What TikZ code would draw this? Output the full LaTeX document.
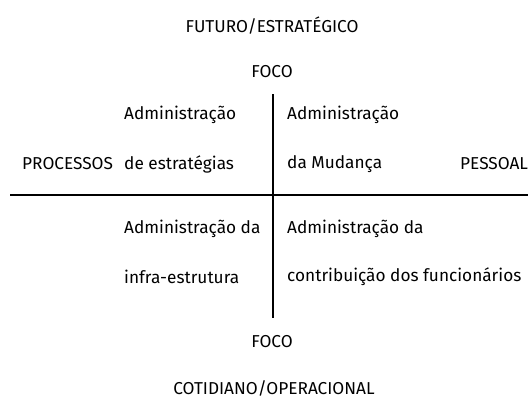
\documentclass[tikz,border=0pt]{standalone}
\usepackage{fontspec}
\setmainfont{Fira Sans}
\begin{document}
\begin{tikzpicture}[x=1bp,y=-1bp,
  lbl/.style={inner sep=0pt,font=\fontsize{17.3}{19}\selectfont},
  axis/.style={line width=2.2bp}]
\useasboundingbox (0,0) rectangle (528,398);
\node[lbl] (top) at (272,26) {FUTURO/ESTRATÉGICO};
\node[lbl] (focotop) at (272,72) {FOCO};
\node[lbl,anchor=west] (a1) at (124,115) {Administração};
\node[lbl,anchor=west] (a2) at (124,164) {de estratégias};
\node[lbl,anchor=west] (proc) at (22,164) {PROCESSOS};
\node[lbl,anchor=west] (b1) at (287,115) {Administração};
\node[lbl,anchor=west] (b2) at (287,164) {da Mudança};
\node[lbl,anchor=west] (pess) at (460,164) {PESSOAL};
\node[lbl,anchor=west] (c1) at (124,229) {Administração da};
\node[lbl,anchor=west] (c2) at (124,277) {infra-estrutura};
\node[lbl,anchor=west] (d1) at (287,229) {Administração da};
\node[lbl,anchor=west] (d2) at (287,277) {contribuição dos funcionários};
\node[lbl] (focobot) at (272,342) {FOCO};
\node[lbl] (bot) at (274,388) {COTIDIANO/OPERACIONAL};
\coordinate (vt) at (273,94);
\coordinate (vb) at (273,318);
\coordinate (hl) at (10,195);
\coordinate (hr) at (528,195);
\draw[axis] (vt) -- (vb);
\draw[axis] (hl) -- (hr);
\end{tikzpicture}
\end{document}
